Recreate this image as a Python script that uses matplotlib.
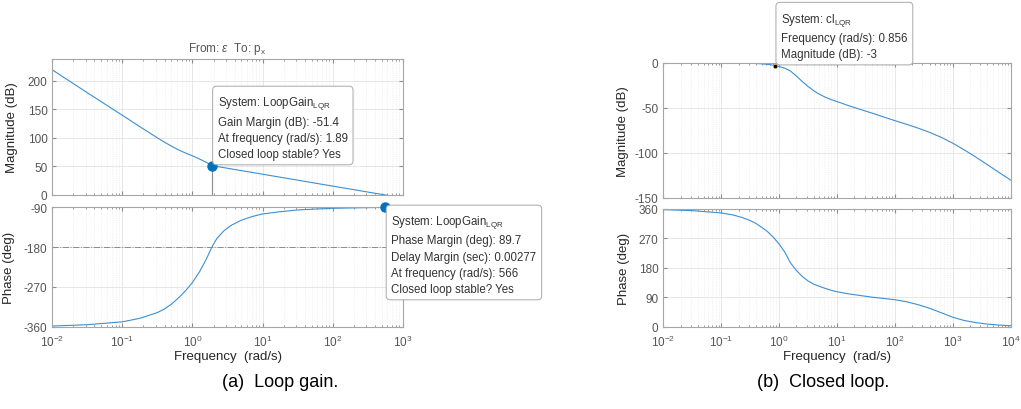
import matplotlib
matplotlib.use('Agg')
import matplotlib.pyplot as plt

plt.rcParams['font.family'] = ['Liberation Sans', 'DejaVu Sans']
plt.rcParams['mathtext.fontset'] = 'custom'
plt.rcParams['mathtext.rm'] = 'Liberation Sans'
plt.rcParams['mathtext.it'] = 'Liberation Sans:italic'
plt.rcParams['axes.unicode_minus'] = False

# Loop gain L(jw): magnitude (dB) and phase (deg)
loop_freq_mag = [0.01, 0.0316, 0.1, 0.178, 0.316, 0.398, 0.501, 0.631, 0.794, 1.0, 1.26, 1.58,
                 1.89, 3.16, 10, 100, 566, 1000]
loop_mag = [219, 179, 139.5, 119.5, 100, 92.5, 85.5, 79, 73.5, 68.5, 63, 57, 51.4, 46.8,
            36.4, 15.6, 0, -5.1]
loop_freq_ph = [0.01, 0.0316, 0.1, 0.178, 0.316, 0.398, 0.501, 0.631, 0.794, 1.0, 1.26, 1.58,
                1.89, 2.24, 2.82, 3.55, 5.01, 7.08, 10, 17.8, 31.6, 56.2, 100, 316, 566, 1000]
loop_ph = [-358.5, -355.5, -349, -341, -328, -320, -309, -295, -279, -260, -236, -207, -180,
           -160, -143, -131, -119, -111, -105, -100, -96, -94, -92.3, -90.8, -90.3, -90.2]

# Closed loop T(jw)
cl_freq_mag = [0.01, 0.1, 0.316, 0.501, 0.708, 0.856, 1.0, 1.26, 1.58, 2.0, 2.51, 3.16, 3.98,
               5.01, 6.31, 7.94, 10, 15.8, 25.1, 39.8, 63.1, 100, 158, 251, 398, 631, 1000,
               1585, 2512, 3981, 6310, 10000]
cl_mag = [0, -0.05, -0.3, -0.9, -1.9, -3, -3.9, -5.8, -9, -14.5, -20.5, -26, -30.8, -34.8,
          -38, -40.6, -42.8, -47.3, -51.5, -55.5, -59.8, -64, -68, -72.3, -77, -82.5, -89,
          -96.5, -104.5, -113, -121.5, -130]
cl_freq_ph = [0.01, 0.0316, 0.1, 0.158, 0.224, 0.316, 0.398, 0.501, 0.631, 0.794, 1.0, 1.26,
              1.58, 2.0, 2.51, 3.16, 3.98, 5.62, 7.94, 10, 15.8, 25.1, 39.8, 63.1, 100, 158,
              251, 398, 631, 1000, 1585, 2512, 3981, 6310, 10000]
cl_ph = [358, 355, 348, 342, 334.6, 325, 316, 304, 291, 274, 253, 228, 195, 172, 154, 140,
         130, 120, 111.5, 107, 100.5, 95.5, 90.5, 86.5, 82.6, 76.5, 67.5, 56.5, 43, 29, 19,
         12.5, 8, 5, 3]

# margins / datatip values
gm_freq, gm_db = 1.89, 51.4
pm_freq, pm_phase = 566, -90.3
bw_freq, bw_db = 0.856, -3

W, H = 1021, 410
LINE = '#3d8fd1'
TIP_BLUE = '#0072BD'


def rect(x0, y0, x1, y1):
    return [x0 / W, 1 - y1 / H, (x1 - x0) / W, (y1 - y0) / H]


def style(ax, xlim, ylim, yticks, show_x=True):
    ax.set_xscale('log')
    ax.set_xlim(*xlim)
    ax.set_ylim(*ylim)
    ax.set_yticks(yticks)
    ax.grid(True, which='major', color='#e3e3e3', lw=0.6)
    ax.grid(True, which='minor', axis='x', color='#e6e6e6', lw=0.5, ls=':')
    ax.set_axisbelow(True)
    for s in ax.spines.values():
        s.set_color('#a6a6a6')
        s.set_linewidth(0.8)
    ax.tick_params(which='both', direction='in', top=True, right=True,
                   color='#8c8c8c', labelcolor='#555555', labelsize=8.5)
    ax.tick_params(which='major', length=3)
    ax.tick_params(which='minor', length=1.6)
    ax.tick_params(axis='x', pad=5)
    if not show_x:
        ax.tick_params(axis='x', which='both', labelbottom=False)


def tip(ax, xy, text, va, off):
    ax.annotate(text, xy=xy, xytext=off, textcoords='offset pixels',
                ha='left', va=va, fontsize=8.3, color='#333333', linespacing=1.45,
                annotation_clip=False, zorder=10,
                bbox=dict(boxstyle='round,pad=0.45,rounding_size=0.35', fc='white',
                          ec='#a8a8a8', lw=0.7))


fig = plt.figure(figsize=(W / 100, H / 100), dpi=100)

# (a) loop gain
ax1 = fig.add_axes(rect(52.3, 60, 402.7, 196))
ax2 = fig.add_axes(rect(52.3, 208.3, 402.7, 327.7))
style(ax1, (1e-2, 1e3), (0, 238), [0, 50, 100, 150, 200], show_x=False)
style(ax2, (1e-2, 1e3), (-360, -90), [-360, -270, -180, -90])

ax1.plot(loop_freq_mag, loop_mag, color=LINE, lw=0.8)
ax1.axhline(0, color='#8c8c8c', lw=0.7, ls='-.')
ax1.plot([gm_freq, gm_freq], [0, gm_db], color='#8c8c8c', lw=0.8)
ax1.plot(gm_freq, gm_db, 'o', color=TIP_BLUE, ms=6.5, zorder=5)
ax1.set_title(r'From: $\epsilon$  To: p$_\mathrm{x}$', fontsize=8.5, color='#555555', pad=6)
ax1.set_ylabel('Magnitude (dB)', fontsize=9.5, color='#262626')
ax1.yaxis.set_label_coords(-0.098, 0.5)
tip(ax1, (gm_freq, gm_db),
    'System: LoopGain$_\\mathrm{LQR}$\nGain Margin (dB): -51.4\n'
    'At frequency (rad/s): 1.89\nClosed loop stable? Yes', 'bottom', (6, 6))

ax2.plot(loop_freq_ph, loop_ph, color=LINE, lw=0.8)
ax2.axhline(-180, color='#8c8c8c', lw=0.7, ls='-.')
ax2.plot(pm_freq, pm_phase, 'o', color=TIP_BLUE, ms=6.5, zorder=5, clip_on=False)
ax2.set_ylabel('Phase (deg)', fontsize=9.5, color='#262626')
ax2.yaxis.set_label_coords(-0.106, 0.5)
ax2.set_xlabel('Frequency  (rad/s)', fontsize=9.5, color='#262626', labelpad=1)
tip(ax2, (pm_freq, pm_phase),
    'System: LoopGain$_\\mathrm{LQR}$\nPhase Margin (deg): 89.7\nDelay Margin (sec): 0.00277\n'
    'At frequency (rad/s): 566\nClosed loop stable? Yes', 'top', (6, -6))

# (b) closed loop
ax3 = fig.add_axes(rect(663.3, 64, 1010.5, 199))
ax4 = fig.add_axes(rect(663.3, 210, 1010.5, 327.7))
style(ax3, (1e-2, 1e4), (-150, 0), [-150, -100, -50, 0], show_x=False)
style(ax4, (1e-2, 1e4), (0, 360), [0, 90, 180, 270, 360])

ax3.plot(cl_freq_mag, cl_mag, color=LINE, lw=0.8)
ax3.plot(bw_freq, bw_db, 'o', color='black', ms=3, mec='#d8c060', mew=0.4, zorder=5, clip_on=False)
ax3.set_ylabel('Magnitude (dB)', fontsize=9.5, color='#262626')
ax3.yaxis.set_label_coords(-0.10, 0.5)
tip(ax3, (bw_freq, bw_db),
    'System: cl$_\\mathrm{LQR}$\nFrequency (rad/s): 0.856\nMagnitude (dB): -3', 'bottom', (6, 6))

ax4.plot(cl_freq_ph, cl_ph, color=LINE, lw=0.8)
ax4.set_ylabel('Phase (deg)', fontsize=9.5, color='#262626')
ax4.yaxis.set_label_coords(-0.096, 0.5)
ax4.set_xlabel('Frequency  (rad/s)', fontsize=9.5, color='#262626', labelpad=1)

fig.text(280 / W, 1 - 383 / H, '(a)  Loop gain.', fontsize=13, ha='center', va='center')
fig.text(823 / W, 1 - 383 / H, '(b)  Closed loop.', fontsize=13, ha='center', va='center')

fig.savefig('out.png', dpi=100)
